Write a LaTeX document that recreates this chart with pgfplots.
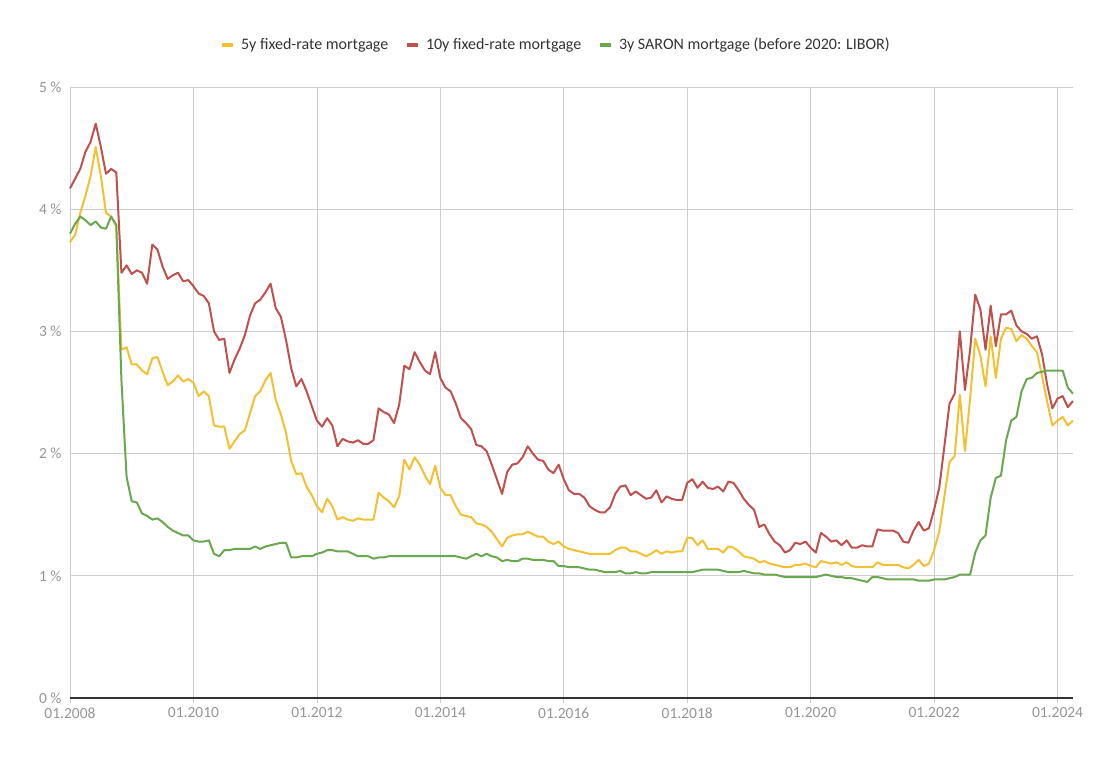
\documentclass[border=0pt]{standalone}
\usepackage{fontspec}
\setmainfont{Carlito}
\usepackage{pgfplots}
\usepackage{pgfplotstable}
\pgfplotsset{compat=1.18}
\definecolor{cY}{RGB}{242,192,48}
\definecolor{cR}{RGB}{192,80,77}
\definecolor{cG}{RGB}{106,168,79}
\definecolor{cGrid}{RGB}{205,205,205}
\definecolor{cTick}{RGB}{150,150,150}
\pgfplotstableread{
m y5 y10 s3
0 3.73 4.17 3.80
1 3.79 4.25 3.88
2 3.97 4.33 3.94
3 4.11 4.47 3.91
4 4.27 4.55 3.87
5 4.51 4.70 3.90
6 4.27 4.51 3.85
7 3.97 4.29 3.84
8 3.94 4.33 3.94
9 3.86 4.30 3.87
10 2.85 3.48 2.60
11 2.87 3.54 1.81
12 2.73 3.47 1.61
13 2.73 3.50 1.60
14 2.68 3.48 1.51
15 2.65 3.39 1.49
16 2.78 3.71 1.46
17 2.79 3.67 1.47
18 2.67 3.53 1.44
19 2.56 3.43 1.40
20 2.59 3.46 1.37
21 2.64 3.48 1.35
22 2.59 3.41 1.33
23 2.61 3.42 1.33
24 2.58 3.37 1.29
25 2.47 3.31 1.28
26 2.51 3.29 1.28
27 2.47 3.23 1.29
28 2.23 3.00 1.18
29 2.22 2.93 1.16
30 2.22 2.94 1.21
31 2.04 2.66 1.21
32 2.10 2.77 1.22
33 2.16 2.86 1.22
34 2.19 2.97 1.22
35 2.33 3.13 1.22
36 2.47 3.23 1.24
37 2.51 3.26 1.22
38 2.60 3.32 1.24
39 2.66 3.39 1.25
40 2.44 3.19 1.26
41 2.32 3.12 1.27
42 2.17 2.93 1.27
43 1.94 2.70 1.15
44 1.83 2.55 1.15
45 1.84 2.61 1.16
46 1.73 2.51 1.16
47 1.66 2.39 1.16
48 1.57 2.27 1.18
49 1.52 2.22 1.19
50 1.63 2.29 1.21
51 1.57 2.23 1.21
52 1.46 2.06 1.20
53 1.48 2.12 1.20
54 1.46 2.10 1.20
55 1.45 2.09 1.18
56 1.47 2.11 1.16
57 1.46 2.08 1.16
58 1.46 2.08 1.16
59 1.46 2.11 1.14
60 1.68 2.37 1.15
61 1.64 2.34 1.15
62 1.61 2.32 1.16
63 1.56 2.25 1.16
64 1.65 2.40 1.16
65 1.95 2.72 1.16
66 1.87 2.69 1.16
67 1.97 2.83 1.16
68 1.91 2.75 1.16
69 1.82 2.68 1.16
70 1.75 2.65 1.16
71 1.90 2.83 1.16
72 1.72 2.62 1.16
73 1.66 2.54 1.16
74 1.66 2.51 1.16
75 1.57 2.41 1.16
76 1.50 2.29 1.15
77 1.49 2.25 1.14
78 1.48 2.20 1.16
79 1.43 2.07 1.18
80 1.42 2.06 1.16
81 1.40 2.02 1.18
82 1.36 1.91 1.16
83 1.30 1.79 1.15
84 1.24 1.67 1.12
85 1.31 1.85 1.13
86 1.33 1.91 1.12
87 1.34 1.92 1.12
88 1.34 1.97 1.14
89 1.36 2.06 1.14
90 1.34 2.00 1.13
91 1.32 1.95 1.13
92 1.32 1.94 1.13
93 1.28 1.87 1.12
94 1.26 1.84 1.12
95 1.28 1.91 1.08
96 1.24 1.79 1.08
97 1.22 1.70 1.07
98 1.21 1.67 1.07
99 1.20 1.67 1.07
100 1.19 1.64 1.06
101 1.18 1.57 1.05
102 1.18 1.54 1.05
103 1.18 1.52 1.04
104 1.18 1.52 1.03
105 1.18 1.56 1.03
106 1.21 1.67 1.03
107 1.23 1.73 1.04
108 1.23 1.74 1.02
109 1.20 1.66 1.02
110 1.20 1.69 1.03
111 1.18 1.66 1.02
112 1.16 1.63 1.02
113 1.18 1.64 1.03
114 1.21 1.70 1.03
115 1.18 1.60 1.03
116 1.20 1.65 1.03
117 1.19 1.63 1.03
118 1.20 1.62 1.03
119 1.20 1.62 1.03
120 1.31 1.76 1.03
121 1.31 1.79 1.03
122 1.25 1.72 1.04
123 1.29 1.77 1.05
124 1.22 1.72 1.05
125 1.22 1.71 1.05
126 1.22 1.73 1.05
127 1.19 1.69 1.04
128 1.24 1.77 1.03
129 1.23 1.76 1.03
130 1.20 1.70 1.03
131 1.16 1.63 1.04
132 1.15 1.58 1.03
133 1.14 1.54 1.02
134 1.11 1.40 1.02
135 1.12 1.42 1.01
136 1.10 1.34 1.01
137 1.09 1.28 1.01
138 1.08 1.25 1.00
139 1.07 1.19 0.99
140 1.07 1.21 0.99
141 1.09 1.27 0.99
142 1.09 1.26 0.99
143 1.10 1.28 0.99
144 1.08 1.23 0.99
145 1.07 1.19 0.99
146 1.12 1.35 1.00
147 1.11 1.32 1.01
148 1.10 1.28 1.00
149 1.11 1.29 0.99
150 1.09 1.25 0.99
151 1.11 1.29 0.98
152 1.08 1.23 0.98
153 1.07 1.23 0.97
154 1.07 1.25 0.96
155 1.07 1.24 0.95
156 1.07 1.24 0.99
157 1.11 1.38 0.99
158 1.09 1.37 0.98
159 1.09 1.37 0.97
160 1.09 1.37 0.97
161 1.09 1.35 0.97
162 1.07 1.28 0.97
163 1.06 1.27 0.97
164 1.09 1.37 0.97
165 1.13 1.44 0.96
166 1.08 1.37 0.96
167 1.10 1.39 0.96
168 1.21 1.54 0.97
169 1.36 1.72 0.97
170 1.65 2.06 0.97
171 1.93 2.41 0.98
172 1.98 2.49 0.99
173 2.48 3.00 1.01
174 2.02 2.52 1.01
175 2.45 2.85 1.01
176 2.94 3.30 1.19
177 2.80 3.18 1.29
178 2.55 2.85 1.33
179 2.96 3.21 1.64
180 2.62 2.88 1.80
181 2.94 3.14 1.82
182 3.03 3.14 2.11
183 3.02 3.17 2.27
184 2.92 3.05 2.30
185 2.97 3.00 2.51
186 2.94 2.98 2.61
187 2.88 2.94 2.62
188 2.83 2.96 2.66
189 2.63 2.81 2.67
190 2.42 2.56 2.68
191 2.23 2.37 2.68
192 2.27 2.45 2.68
193 2.30 2.47 2.68
194 2.23 2.38 2.54
195 2.27 2.43 2.49
}\rates
\begin{document}
\begin{tikzpicture}
\path[use as bounding box] (-70pt,-63pt) rectangle (1042pt,698pt);
\begin{axis}[
  at={(0pt,0pt)}, anchor=south west,
  scale only axis, width=1003pt, height=611pt,
  xmin=0, xmax=195, ymin=0, ymax=5,
  axis x line*=bottom, axis y line*=left,
  x axis line style={-, draw=black!80, line width=1.2pt},
  y axis line style={draw=none},
  xtick={0,24,...,192},
  xticklabels={01.2008,01.2010,01.2012,01.2014,01.2016,01.2018,01.2020,01.2022,01.2024},
  ytick={0,1,...,5},
  yticklabels={0 \%,1 \%,2 \%,3 \%,4 \%,5 \%},
  /pgf/number format/assume math mode=true,
  xmajorgrids, ymajorgrids,
  major grid style={draw=cGrid, line width=0.7pt},
  x tick style={draw=cGrid, line width=0.7pt},
  y tick style={draw=none},
  tick align=outside, major tick length=5pt,
  ticklabel style={font=\fontsize{15.5}{17}\selectfont, text=cTick},
  yticklabel style={xshift=0pt},
  xticklabel style={yshift=-1pt},
  clip=false,
  legend style={at={(0.4846,1.069)}, anchor=center, draw=none, fill=none,
    legend columns=3, font=\fontsize{16}{18}\selectfont, text=black!80,
    /tikz/every even column/.append style={column sep=15pt}},
  legend image code/.code={\draw[#1, line width=3.5pt] (0pt,0pt) -- (11pt,0pt); \path (16pt,0pt);},
]
\addplot[cY, line width=2pt, line join=round] table[x=m, y=y5] {\rates};
\addlegendentry{5y fixed-rate mortgage}
\addplot[cR, line width=2pt, line join=round] table[x=m, y=y10] {\rates};
\addlegendentry{10y fixed-rate mortgage}
\addplot[cG, line width=2pt, line join=round] table[x=m, y=s3] {\rates};
\addlegendentry{3y SARON mortgage (before 2020: LIBOR)}
\end{axis}
\end{tikzpicture}
\end{document}
